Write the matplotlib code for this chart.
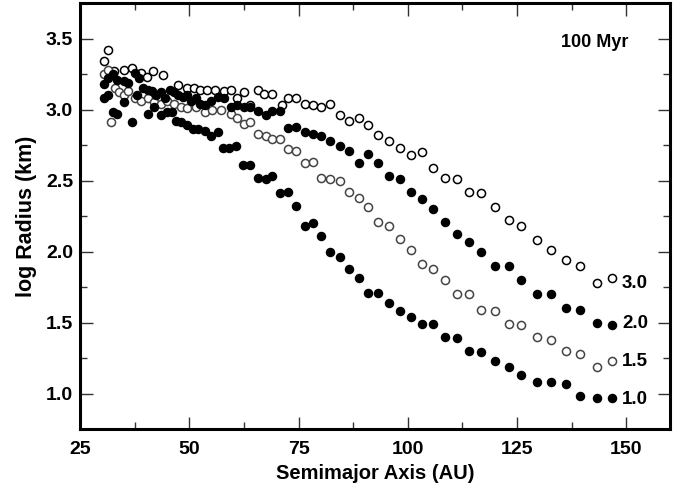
import matplotlib
matplotlib.use("Agg")
import matplotlib.pyplot as plt
from matplotlib.ticker import MultipleLocator

plt.rcParams['font.family'] = ['Liberation Sans', 'DejaVu Sans']
plt.rcParams['font.weight'] = 'bold'

# serie 1.0 (pontos cheios, curva inferior)
a_10 = [30.5, 31.5, 32.5, 33.5, 35.0, 36.8, 38.0, 40.5, 42.0, 43.5, 45.0, 46.0, 47.0,
        48.2, 49.5, 50.8, 52.0, 53.5, 55.0, 56.5, 57.8, 59.2, 60.8, 62.3, 64.0, 65.8,
        67.5, 69.0, 70.8, 72.5, 74.5, 76.5, 78.3, 80.2, 82.3, 84.5, 86.5, 88.8, 91.0,
        93.3, 95.8, 98.2, 100.7, 103.2, 105.8, 108.5, 111.2, 114.0, 116.8, 120.0,
        123.2, 126.0, 129.5, 132.8, 136.2, 139.5, 143.2, 146.8]
r_10 = [3.08, 3.10, 2.98, 2.97, 3.05, 2.91, 3.10, 2.97, 3.02, 2.96, 2.98, 2.98, 2.92,
        2.91, 2.89, 2.86, 2.86, 2.85, 2.81, 2.84, 2.73, 2.73, 2.74, 2.61, 2.61, 2.52,
        2.51, 2.53, 2.41, 2.42, 2.32, 2.18, 2.20, 2.11, 2.00, 1.96, 1.88, 1.81, 1.71,
        1.71, 1.64, 1.58, 1.54, 1.49, 1.49, 1.40, 1.39, 1.30, 1.29, 1.23,
        1.19, 1.13, 1.08, 1.08, 1.07, 0.98, 0.97, 0.97]

# serie 1.5 (circulos abertos)
a_15 = [30.5, 31.5, 32.2, 33.0, 34.0, 35.0, 36.0, 37.5, 39.0, 40.5, 42.0, 43.5, 45.0,
        46.5, 48.0, 49.5, 51.5, 53.5, 55.2, 57.3, 59.5, 61.0, 62.5, 64.0, 65.8, 67.5,
        69.0, 70.8, 72.5, 74.5, 76.5, 78.3, 80.2, 82.3, 84.5, 86.5, 88.8, 91.0, 93.3,
        95.8, 98.2, 100.7, 103.2, 105.8, 108.5, 111.2, 114.0, 116.8, 120.0, 123.2,
        126.0, 129.5, 132.8, 136.2, 139.5, 143.2, 146.8]
r_15 = [3.25, 3.28, 2.91, 3.15, 3.12, 3.10, 3.13, 3.08, 3.06, 3.08, 3.05, 3.04, 3.06,
        3.04, 3.02, 3.01, 3.02, 2.98, 3.00, 3.00, 2.97, 2.94, 2.90, 2.91, 2.83, 2.81,
        2.79, 2.79, 2.72, 2.71, 2.62, 2.63, 2.52, 2.51, 2.50, 2.42, 2.38, 2.31, 2.21,
        2.18, 2.09, 2.01, 1.91, 1.88, 1.80, 1.70, 1.70, 1.59, 1.58, 1.49,
        1.48, 1.40, 1.38, 1.30, 1.28, 1.19, 1.23]

# serie 2.0 (pontos cheios)
a_20 = [30.5, 31.5, 32.5, 33.5, 35.0, 36.0, 37.5, 38.5, 39.5, 40.5, 41.5, 42.5, 43.5,
        44.5, 45.5, 46.5, 47.5, 48.5, 49.5, 50.5, 51.5, 52.5, 53.5, 55.0, 56.5, 58.0,
        59.5, 61.0, 62.5, 64.0, 65.8, 67.5, 69.0, 70.8, 72.5, 74.5, 76.5, 78.3, 80.2,
        82.3, 84.5, 86.5, 88.8, 91.0, 93.3, 95.8, 98.2, 100.7, 103.2, 105.8, 108.5,
        111.2, 114.0, 116.8, 120.0, 123.2, 126.0, 129.5, 132.8, 136.2, 139.5, 143.2,
        146.8]
r_20 = [3.18, 3.22, 3.25, 3.21, 3.20, 3.19, 3.26, 3.22, 3.15, 3.14, 3.13, 3.10, 3.12,
        3.08, 3.14, 3.12, 3.10, 3.09, 3.10, 3.06, 3.08, 3.04, 3.03, 3.06, 3.09, 3.08,
        3.02, 3.03, 3.02, 3.02, 2.99, 2.96, 2.99, 2.99, 2.87, 2.88, 2.84, 2.83, 2.81,
        2.78, 2.74, 2.71, 2.62, 2.69, 2.62, 2.53, 2.51, 2.42, 2.37, 2.30, 2.21,
        2.12, 2.07, 2.00, 1.90, 1.90, 1.80, 1.70, 1.70, 1.60, 1.59, 1.50,
        1.48]

# serie 3.0 (circulos abertos, curva superior)
a_30 = [30.5, 31.5, 32.8, 35.0, 36.8, 39.0, 40.3, 41.8, 44.0, 47.5, 49.5, 51.0, 52.5,
        54.0, 56.0, 58.0, 59.5, 61.0, 62.5, 64.0, 65.8, 67.2, 69.0, 71.2, 72.5, 74.5,
        76.5, 78.3, 80.2, 82.3, 84.5, 86.5, 88.8, 91.0, 93.3, 95.8, 98.2, 100.7, 103.2,
        105.8, 108.5, 111.2, 114.0, 116.8, 120.0, 123.2, 126.0, 129.5, 132.8, 136.2,
        139.5, 143.2, 146.8]
r_30 = [3.34, 3.42, 3.27, 3.28, 3.29, 3.26, 3.23, 3.27, 3.24, 3.17, 3.15, 3.15, 3.14,
        3.14, 3.14, 3.13, 3.14, 3.08, 3.12, 3.03, 3.14, 3.11, 3.11, 3.03, 3.08, 3.08,
        3.04, 3.03, 3.02, 3.04, 2.96, 2.92, 2.94, 2.89, 2.82, 2.78, 2.73, 2.68, 2.70,
        2.59, 2.52, 2.51, 2.42, 2.41, 2.31, 2.22, 2.18, 2.08, 2.01, 1.94,
        1.90, 1.78, 1.81]

curve_labels = ["3.0", "2.0", "1.5", "1.0"]
label_y = [1.775, 1.494, 1.228, 0.955]

fig = plt.figure(figsize=(6.82, 4.93), dpi=100)
ax = fig.add_axes([80 / 682, 64 / 493, 590 / 682, 426 / 493])

ms = 34
ax.scatter(a_30, r_30, s=ms, facecolors='white', edgecolors='black', linewidths=1.1, zorder=3)
ax.scatter(a_15, r_15, s=ms, facecolors='white', edgecolors='#444444', linewidths=1.1, zorder=3)
ax.scatter(a_20, r_20, s=ms, color='black', zorder=4)
ax.scatter(a_10, r_10, s=ms, color='black', zorder=4)

for lab, yy in zip(curve_labels, label_y):
    ax.text(149.0, yy, lab, fontsize=13.5, fontweight='bold', ha='left', va='center')

ax.text(135.1, 3.47, "100 Myr", fontsize=13, fontweight='bold', ha='left', va='center')

ax.set_xlim(25, 160)
ax.set_ylim(0.75, 3.75)
ax.xaxis.set_major_locator(MultipleLocator(25))
ax.xaxis.set_minor_locator(MultipleLocator(12.5))
ax.yaxis.set_major_locator(MultipleLocator(0.5))
ax.yaxis.set_minor_locator(MultipleLocator(0.25))
ax.set_xticks([25, 50, 75, 100, 125, 150])
ax.set_xticklabels(["25", "50", "75", "100", "125", "150"])
ax.set_yticks([1.0, 1.5, 2.0, 2.5, 3.0, 3.5])
ax.set_yticklabels(["1.0", "1.5", "2.0", "2.5", "3.0", "3.5"])

ax.tick_params(which='both', direction='in', top=True, right=True, color='#333333')
ax.tick_params(which='major', length=9, width=1.0)
ax.tick_params(which='minor', length=5, width=1.0)
ax.tick_params(axis='x', which='major', pad=9, labelsize=14)
ax.tick_params(axis='y', which='major', pad=5, labelsize=14)
for lbl in ax.get_xticklabels() + ax.get_yticklabels():
    lbl.set_fontweight('bold')
for sp in ax.spines.values():
    sp.set_linewidth(2.2)

ax.set_xlabel("Semimajor Axis (AU)", fontsize=14.5, fontweight='bold', labelpad=4)
ax.set_ylabel("log Radius (km)", fontsize=15.5, fontweight='bold', labelpad=6)

fig.savefig("out.png", dpi=100)
